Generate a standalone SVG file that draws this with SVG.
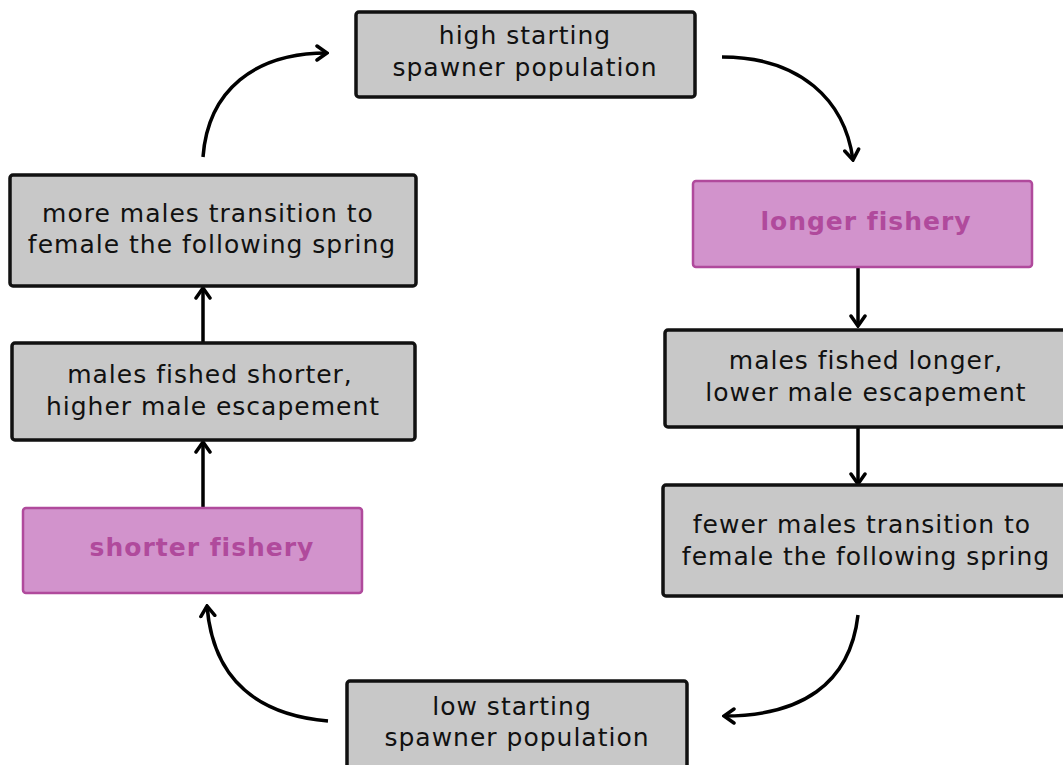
<svg xmlns="http://www.w3.org/2000/svg" width="1063" height="765" viewBox="0 0 1063 765">
<defs>
<marker id="ah" viewBox="0 0 14 18" refX="12" refY="9" markerWidth="14" markerHeight="18" markerUnits="userSpaceOnUse" orient="auto">
<path d="M2,2 L12,9 L2,16" fill="none" stroke="#000" stroke-width="3.5" stroke-linecap="round" stroke-linejoin="miter"/>
</marker>
<style>
.g rect{fill:#c8c8c8;stroke:#111;stroke-width:3.5}
.p rect{fill:#d293cc;stroke:#b04a9c;stroke-width:2.5}
.g text{font-family:"DejaVu Sans",Verdana,sans-serif;font-size:25px;letter-spacing:1px;fill:#111;text-anchor:middle}
.p text{font-family:"DejaVu Sans",Verdana,sans-serif;font-size:25px;letter-spacing:1px;font-weight:bold;fill:#b04a9c;text-anchor:middle}
.c path{fill:none;stroke:#000;stroke-width:3.5;marker-end:url(#ah)}
</style>
</defs>
<rect width="1063" height="765" fill="#fff"/>
<g class="c" id="connectors">
<path d="M203,157 C208,90 255,53 327,53"/>
<path d="M722,57 C800,57 845,100 853,160"/>
<path d="M858,615 C850,685 800,716 724,716"/>
<path d="M328,721 C258,715 213,680 207,606"/>
<path d="M858,268 L858,326"/>
<path d="M858,428 L858,484"/>
<path d="M203,508 L203,442"/>
<path d="M203,343 L203,288"/>
</g>
<g id="high" class="g"><rect x="356" y="12" width="339" height="85" rx="3"/><text x="525" y="44">high starting</text><text x="525" y="76">spawner population</text></g>
<g id="longer" class="p"><rect x="693" y="181" width="339" height="86" rx="3"/><text x="866" y="230">longer fishery</text></g>
<g id="fishedlonger" class="g"><rect x="665" y="330" width="405" height="97" rx="3"/><text x="866" y="369">males fished longer,</text><text x="866" y="401">lower male escapement</text></g>
<g id="fewer" class="g"><rect x="663" y="485" width="410" height="111" rx="3"/><text x="862" y="533">fewer males transition to</text><text x="866" y="565">female the following spring</text></g>
<g id="low" class="g"><rect x="347" y="681" width="340" height="100" rx="3"/><text x="512" y="715">low starting</text><text x="517" y="746">spawner population</text></g>
<g id="shorter" class="p"><rect x="23" y="508" width="339" height="85" rx="3"/><text x="202" y="556">shorter fishery</text></g>
<g id="fishedshorter" class="g"><rect x="12" y="343" width="403" height="97" rx="3"/><text x="210" y="383">males fished shorter,</text><text x="213" y="415">higher male escapement</text></g>
<g id="more" class="g"><rect x="10" y="175" width="406" height="111" rx="3"/><text x="208" y="222">more males transition to</text><text x="212" y="253">female the following spring</text></g>
</svg>
